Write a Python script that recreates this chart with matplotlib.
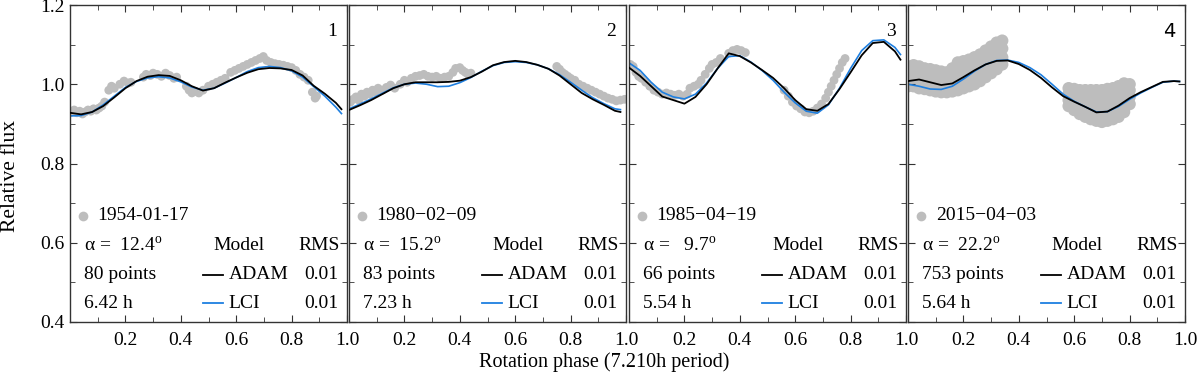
import numpy as np
import matplotlib
matplotlib.use('Agg')
import matplotlib.pyplot as plt

plt.rcParams['font.family'] = ['Liberation Serif', 'DejaVu Serif']
plt.rcParams['mathtext.fontset'] = 'custom'
plt.rcParams['mathtext.rm'] = 'Liberation Serif'
plt.rcParams['font.size'] = 14

# phase grid of the model curves
grid = [0.00, 0.04, 0.08, 0.12, 0.16, 0.20, 0.24, 0.28, 0.32, 0.36, 0.40, 0.44, 0.48,
        0.52, 0.56, 0.60, 0.64, 0.68, 0.72, 0.76, 0.80, 0.84, 0.88, 0.92, 0.96, 0.98]

adam1 = [0.928, 0.924, 0.930, 0.945, 0.967, 0.990, 1.008, 1.019, 1.023, 1.021, 1.010, 0.995, 0.984,
         0.990, 1.004, 1.017, 1.029, 1.038, 1.041, 1.040, 1.036, 1.022, 0.996, 0.976, 0.953, 0.937]
lci1 = [0.920, 0.921, 0.930, 0.948, 0.970, 0.992, 1.007, 1.016, 1.019, 1.016, 1.006, 0.993, 0.985,
        0.990, 1.003, 1.017, 1.032, 1.042, 1.045, 1.042, 1.034, 1.018, 0.994, 0.970, 0.942, 0.926]
adam2 = [0.935, 0.947, 0.960, 0.975, 0.990, 1.000, 1.005, 1.005, 1.005, 1.006, 1.009, 1.018, 1.032,
         1.048, 1.056, 1.059, 1.056, 1.049, 1.039, 1.022, 1.000, 0.978, 0.962, 0.948, 0.933, 0.930]
lci2 = [0.938, 0.950, 0.963, 0.977, 0.991, 1.000, 1.003, 1.000, 0.994, 0.995, 1.004, 1.017, 1.033,
        1.047, 1.055, 1.057, 1.055, 1.049, 1.039, 1.024, 1.005, 0.985, 0.966, 0.951, 0.938, 0.936]
adam3 = [1.042, 1.021, 0.995, 0.969, 0.960, 0.951, 0.968, 1.000, 1.040, 1.078, 1.071, 1.055, 1.036,
         1.016, 0.990, 0.960, 0.937, 0.933, 0.950, 0.988, 1.030, 1.073, 1.104, 1.107, 1.083, 1.062]
lci3 = [1.054, 1.035, 1.005, 0.980, 0.968, 0.963, 0.975, 1.003, 1.040, 1.070, 1.072, 1.056, 1.035,
        1.010, 0.980, 0.953, 0.932, 0.927, 0.948, 0.990, 1.040, 1.085, 1.110, 1.112, 1.093, 1.075]
adam4 = [1.008, 1.012, 1.005, 0.998, 1.002, 1.018, 1.035, 1.050, 1.059, 1.060, 1.051, 1.036, 1.016,
         0.992, 0.970, 0.956, 0.943, 0.929, 0.931, 0.946, 0.965, 0.980, 0.993, 1.006, 1.008, 1.007]
lci4 = [1.000, 0.995, 0.988, 0.987, 0.995, 1.013, 1.033, 1.050, 1.060, 1.061, 1.055, 1.042, 1.024,
        1.000, 0.975, 0.957, 0.943, 0.930, 0.931, 0.944, 0.962, 0.978, 0.992, 1.005, 1.008, 1.007]

# observed points (phase, relative flux)
obs1_x = [0.005, 0.015, 0.025, 0.035, 0.045, 0.055, 0.065, 0.075, 0.085, 0.095, 0.105, 0.115, 0.125,
          0.140, 0.150, 0.160, 0.180, 0.195, 0.210, 0.220, 0.265, 0.275, 0.290, 0.300, 0.315, 0.330,
          0.345, 0.360, 0.375, 0.385, 0.420, 0.430, 0.440, 0.450, 0.465, 0.480, 0.500, 0.515, 0.530,
          0.545, 0.560, 0.580, 0.595, 0.610, 0.625, 0.640, 0.655, 0.670, 0.685, 0.698, 0.710, 0.725,
          0.740, 0.755, 0.770, 0.785, 0.800, 0.815, 0.830, 0.845, 0.860, 0.875, 0.885, 0.890]
obs1_y = [0.930, 0.935, 0.928, 0.932, 0.925, 0.930, 0.935, 0.932, 0.938, 0.935, 0.940, 0.945, 0.955,
          0.985, 0.995, 0.990, 1.000, 1.008, 1.003, 1.005, 1.018, 1.025, 1.022, 1.028, 1.025, 1.020,
          1.028, 1.022, 1.015, 1.018, 0.995, 0.985, 0.978, 0.982, 0.978, 0.985, 0.995, 1.000, 1.005,
          1.010, 1.015, 1.030, 1.035, 1.040, 1.045, 1.050, 1.055, 1.060, 1.065, 1.070, 1.060, 1.055,
          1.052, 1.050, 1.048, 1.045, 1.042, 1.035, 1.025, 1.018, 1.010, 0.980, 0.965, 0.970]

obs2_x = [0.005, 0.015, 0.025, 0.035, 0.045, 0.055, 0.065, 0.075, 0.085, 0.095, 0.105, 0.120, 0.135,
          0.150, 0.165, 0.185, 0.200, 0.210, 0.225, 0.240, 0.255, 0.270, 0.285, 0.300, 0.315, 0.330,
          0.345, 0.360, 0.375, 0.385, 0.400, 0.410, 0.420, 0.430, 0.440, 0.750, 0.760, 0.770, 0.780,
          0.790, 0.800, 0.815, 0.830, 0.845, 0.860, 0.875, 0.890, 0.905, 0.920, 0.935, 0.950, 0.965,
          0.980, 0.995]
obs2_y = [0.955, 0.962, 0.968, 0.960, 0.975, 0.970, 0.980, 0.975, 0.985, 0.980, 0.990, 0.985, 0.992,
          0.998, 0.990, 1.000, 1.010, 1.005, 1.015, 1.020, 1.022, 1.025, 1.020, 1.018, 1.020, 1.015,
          1.018, 1.020, 1.030, 1.040, 1.042, 1.035, 1.030, 1.025, 1.028, 1.045, 1.038, 1.030, 1.025,
          1.020, 1.015, 1.010, 1.000, 0.995, 0.990, 0.985, 0.980, 0.975, 0.970, 0.965, 0.962, 0.958,
          0.960, 0.962]

obs3_x = [0.005, 0.015, 0.025, 0.035, 0.045, 0.060, 0.075, 0.090, 0.105, 0.120, 0.135, 0.150, 0.165,
          0.180, 0.195, 0.210, 0.220, 0.235, 0.250, 0.260, 0.275, 0.290, 0.300, 0.315, 0.330, 0.360,
          0.375, 0.390, 0.405, 0.420, 0.560, 0.575, 0.590, 0.605, 0.620, 0.635, 0.650, 0.665, 0.680,
          0.695, 0.710, 0.720, 0.730, 0.740, 0.750, 0.760, 0.770, 0.780]
obs3_y = [1.050, 1.045, 1.030, 1.020, 1.015, 1.005, 0.995, 0.985, 0.980, 0.975, 0.978, 0.975, 0.972,
          0.975, 0.970, 0.975, 0.990, 0.995, 1.000, 1.010, 1.025, 1.040, 1.050, 1.055, 1.065, 1.078,
          1.085, 1.088, 1.085, 1.080, 0.985, 0.970, 0.955, 0.945, 0.938, 0.930, 0.928, 0.932, 0.940,
          0.950, 0.965, 0.980, 0.995, 1.010, 1.025, 1.040, 1.055, 1.065]

# panel 4 is a dense band: phase columns, four flux values per column
obs4_cols = [0.00, 0.02, 0.04, 0.06, 0.08, 0.10, 0.12, 0.14, 0.16, 0.18, 0.20, 0.22, 0.24, 0.26,
             0.28, 0.30, 0.32, 0.34, 0.58, 0.60, 0.62, 0.64, 0.66, 0.68, 0.70, 0.72, 0.74, 0.76,
             0.78, 0.80]
obs4_vals = [[0.995, 1.010, 1.025, 1.045], [0.995, 1.012, 1.030, 1.048], [0.990, 1.008, 1.025, 1.045],
             [0.988, 1.005, 1.022, 1.040], [0.985, 1.002, 1.020, 1.038], [0.982, 1.000, 1.018, 1.035],
             [0.980, 0.998, 1.015, 1.032], [0.980, 0.998, 1.015, 1.030], [0.982, 1.000, 1.020, 1.040],
             [0.985, 1.005, 1.030, 1.055], [0.990, 1.010, 1.035, 1.058], [0.995, 1.015, 1.040, 1.062],
             [1.000, 1.022, 1.045, 1.068], [1.008, 1.030, 1.052, 1.075], [1.018, 1.040, 1.062, 1.085],
             [1.028, 1.050, 1.072, 1.095], [1.038, 1.060, 1.082, 1.105], [1.050, 1.068, 1.090, 1.110],
             [0.945, 0.960, 0.975, 0.990], [0.935, 0.952, 0.970, 0.988], [0.925, 0.945, 0.965, 0.985],
             [0.918, 0.940, 0.962, 0.985], [0.912, 0.935, 0.960, 0.985], [0.908, 0.932, 0.958, 0.985],
             [0.905, 0.930, 0.958, 0.985], [0.908, 0.932, 0.960, 0.988], [0.912, 0.938, 0.965, 0.990],
             [0.918, 0.945, 0.972, 0.995], [0.930, 0.955, 0.980, 1.002], [0.950, 0.968, 0.985, 1.000]]
obs4_x = [c for c, v in zip(obs4_cols, obs4_vals) for _ in v]
obs4_y = [y for v in obs4_vals for y in v]

dates = ['1954-01-17', '1980\u221202\u221209', '1985\u221204\u221219', '2015\u221204\u221203']
alphas = [12.4, 15.2, 9.7, 22.2]
npoints = [80, 83, 66, 753]
hours = ['6.42', '7.23', '5.54', '5.64']
rms_adam = [0.01, 0.01, 0.01, 0.01]
rms_lci = [0.01, 0.01, 0.01, 0.01]

obs_x = [obs1_x, obs2_x, obs3_x, obs4_x]
obs_y = [obs1_y, obs2_y, obs3_y, obs4_y]
adam = [adam1, adam2, adam3, adam4]
lci = [lci1, lci2, lci3, lci4]
dot_size = [40, 40, 40, 80]

gray = '#bdbdbd'
blue = '#1e7fe0'

fig = plt.figure(figsize=(12, 3.77), dpi=100)
lefts = [70, 349, 629, 908]
for i in range(4):
    ax = fig.add_axes([lefts[i] / 1200, 1 - 322 / 377, 277 / 1200, 317 / 377])
    ax.scatter(obs_x[i], obs_y[i], s=dot_size[i], color=gray, edgecolors='none', zorder=1)
    ax.plot(grid, lci[i], color=blue, lw=1.2, zorder=2)
    ax.plot(grid, adam[i], color='black', lw=1.3, zorder=3)

    ax.set_xlim(0, 1)
    ax.set_ylim(0.4, 1.2)
    ax.set_xticks([0.2, 0.4, 0.6, 0.8, 1.0])
    ax.set_xticks(np.arange(0.1, 1.0, 0.2), minor=True)
    ax.set_yticks([0.4, 0.6, 0.8, 1.0, 1.2])
    ax.set_yticks(np.arange(0.5, 1.2, 0.2), minor=True)
    ax.tick_params(which='both', direction='in', top=True, right=True, color='#333333')
    ax.tick_params(which='major', length=5, labelsize=14)
    ax.tick_params(which='minor', length=3.5)
    ax.tick_params(axis='x', pad=7)
    ax.tick_params(axis='y', pad=4)
    if i > 0:
        ax.set_yticklabels([])
    for sp in ax.spines.values():
        sp.set_color('#333333')
        sp.set_linewidth(1.0)

    # panel number
    if i == 3:
        ax.text(0.965, 1.133, str(i + 1), ha='right', va='center', fontsize=14, family='DejaVu Sans')
    else:
        ax.text(0.965, 1.133, str(i + 1), ha='right', va='center', fontsize=14)

    # observation info
    ax.plot([0.048], [0.668], 'o', ms=7, color=gray, mec='none')
    ax.text(0.1, 0.668, dates[i], ha='left', va='center', fontsize=14)
    ax.text(0.05, 0.592, '\u03b1 = %5.1f$^{\\rm o}$' % alphas[i], ha='left', va='center')
    ax.text(0.05, 0.519, '%d points' % npoints[i], ha='left', va='center')
    ax.text(0.05, 0.447, '%s h' % hours[i], ha='left', va='center')

    # model table
    ax.text(0.61, 0.592, 'Model', ha='center', va='center')
    ax.text(0.975, 0.592, 'RMS', ha='right', va='center')
    ax.plot([0.48, 0.553], [0.519, 0.519], color='black', lw=1.3)
    ax.text(0.572, 0.519, 'ADAM', ha='left', va='center')
    ax.text(0.97, 0.519, '%.2f' % rms_adam[i], ha='right', va='center')
    ax.plot([0.48, 0.553], [0.447, 0.447], color=blue, lw=1.3)
    ax.text(0.572, 0.447, 'LCI', ha='left', va='center')
    ax.text(0.97, 0.447, '%.2f' % rms_lci[i], ha='right', va='center')

fig.text(11 / 1200, 1 - 176 / 377, 'Relative flux', rotation=90, ha='center', va='center', fontsize=15.5)
fig.text(604 / 1200, 1 - 362 / 377, 'Rotation phase (7.210h period)', ha='center', va='center', fontsize=14.5)

fig.savefig('out.png', dpi=100)
